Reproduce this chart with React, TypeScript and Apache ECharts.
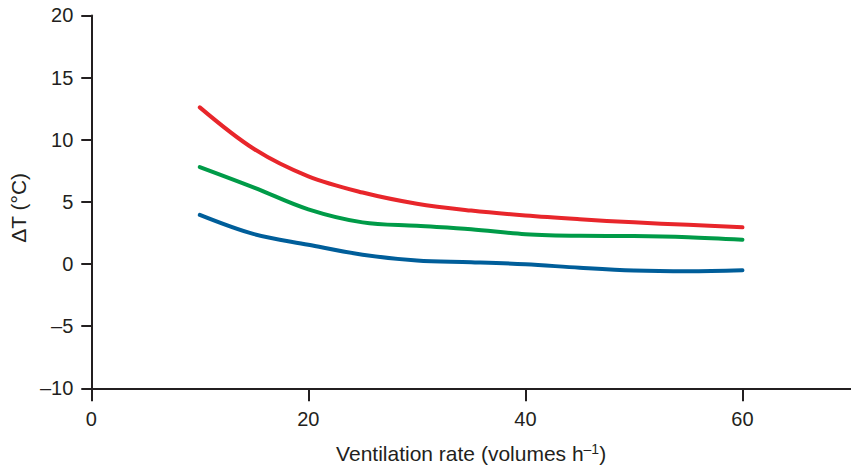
import React, { useEffect, useRef } from "react";
import * as echarts from "echarts";

const xValues = [10, 15, 20, 25, 30, 35, 40, 45, 50, 55, 60];
const redValues = [12.6, 9.25, 7.05, 5.75, 4.85, 4.3, 3.9, 3.6, 3.35, 3.15, 2.95];
const greenValues = [7.8, 6.15, 4.4, 3.35, 3.07, 2.8, 2.4, 2.27, 2.25, 2.15, 1.95];
const blueValues = [3.95, 2.4, 1.55, 0.75, 0.28, 0.15, -0.02, -0.3, -0.52, -0.58, -0.5];
const xTicks = [0, 20, 40, 60];
const yTicks = [-10, -5, 0, 5, 10, 15, 20];

const FONT = "'Liberation Sans', Arial, sans-serif";
const INK = "#231f20";

function pairs(vals: number[]) {
  return xValues.map((x, i) => [x, vals[i]]);
}

export default function App() {
  const ref = useRef<HTMLDivElement>(null);
  useEffect(() => {
    if (!ref.current) return;
    const chart = echarts.init(ref.current, null, { renderer: "svg" });
    const lineSeries = (name: string, vals: number[], color: string) => ({
      name,
      type: "line",
      data: pairs(vals),
      smooth: 0.35,
      showSymbol: false,
      symbol: "none",
      lineStyle: { color, width: 4, cap: "round", join: "round" },
    });
    chart.setOption({
      animation: false,
      backgroundColor: "#ffffff",
      grid: { left: 90, right: -5, top: 15.4, bottom: 84.7, containLabel: false },
      xAxis: {
        type: "value",
        min: 0,
        max: 70,
        interval: 20,
        name: "Ventilation rate (volumes h{sup|–1})",
        nameLocation: "middle",
        nameGap: 54,
        nameTextStyle: {
          fontFamily: FONT,
          fontSize: 21,
          color: INK,
          rich: {
            sup: { fontFamily: FONT, fontSize: 14, color: INK, verticalAlign: "top", padding: [0, 0, 9, 0] },
          },
        },
        splitLine: { show: false },
        axisLine: { show: true, onZero: false, lineStyle: { color: INK, width: 2 } },
        axisTick: { show: true, length: 13, lineStyle: { color: INK, width: 2 } },
        axisLabel: {
          fontFamily: FONT,
          fontSize: 20,
          color: INK,
          margin: 21,
          showMaxLabel: false,
          formatter: (v: number) => (xTicks.includes(v) ? String(v) : ""),
        },
      },
      yAxis: {
        type: "value",
        min: -10,
        max: 20,
        interval: 5,
        name: "ΔT (°C)",
        nameLocation: "middle",
        nameGap: 62,
        nameTextStyle: { fontFamily: FONT, fontSize: 21, color: INK, padding: [0, 12, 0, 0] },
        splitLine: { show: false },
        axisLine: { show: true, onZero: false, lineStyle: { color: INK, width: 2 } },
        axisTick: { show: true, length: 10, lineStyle: { color: INK, width: 2 } },
        axisLabel: {
          fontFamily: FONT,
          fontSize: 20,
          color: INK,
          margin: 18,
          formatter: (v: number) => (yTicks.includes(v) ? String(v).replace("-", "–") : ""),
        },
      },
      series: [
        lineSeries("red", redValues, "#e8262b"),
        lineSeries("green", greenValues, "#009b48"),
        lineSeries("blue", blueValues, "#005e9a"),
      ],
    });
    return () => chart.dispose();
  }, []);
  return (
    <div
      ref={ref}
      style={{ position: "fixed", left: 0, top: 0, width: 851, height: 473, background: "#fff" }}
    />
  );
}
